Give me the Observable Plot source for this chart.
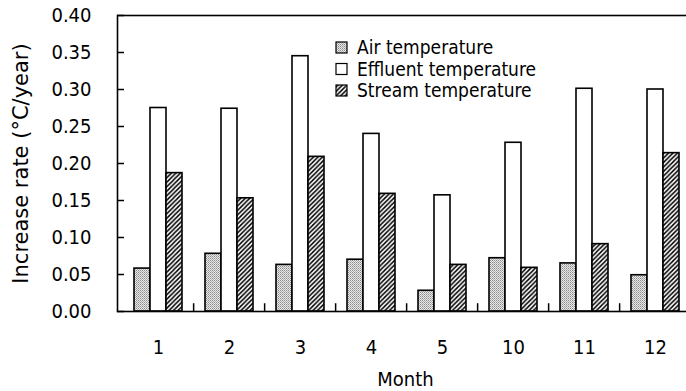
<!DOCTYPE html>
<html><head><meta charset="utf-8">
<script src="https://cdn.jsdelivr.net/npm/d3@7"></script>
<script src="https://cdn.jsdelivr.net/npm/@observablehq/plot@0.6"></script>
<style>
body{margin:0;background:#fff;}
#chart{position:relative;width:686px;height:391px;overflow:hidden;}
</style></head><body><div id="chart"></div>
<script>
const months = ["1","2","3","4","5","10","11","12"];
const airTemp = [0.058, 0.078, 0.063, 0.070, 0.028, 0.072, 0.065, 0.049];
const effluentTemp = [0.275, 0.274, 0.345, 0.240, 0.157, 0.228, 0.301, 0.300];
const streamTemp = [0.187, 0.153, 0.209, 0.159, 0.063, 0.059, 0.091, 0.214];
const seriesNames = ["Air temperature", "Effluent temperature", "Stream temperature"];
const yTicks = [0, 0.05, 0.10, 0.15, 0.20, 0.25, 0.30, 0.35, 0.40];

const seriesValues = [airTemp, effluentTemp, streamTemp];
const rows = months.flatMap((m, i) => seriesNames.map((s, k) => ({month: m, series: s, value: seriesValues[k][i]})));
const fills = ["url(#airPat)", "white", "url(#hatchPat)"];
const font = `"DejaVu Sans Condensed","DejaVu Sans",sans-serif`;
const barW = 16;
const step = 71.75;

const svg = Plot.plot({
  width: 686, height: 391,
  marginLeft: 117, marginRight: -7, marginTop: 15, marginBottom: 80,
  style: {fontFamily: font, fontSize: "20px", color: "black", background: "white", fontStretch: "condensed"},
  x: {domain: months, paddingInner: 1 - barW / step, paddingOuter: (1 - barW / step) / 2, insetLeft: 2},
  y: {domain: [0, 0.4]},
  marks: [
    ...seriesNames.map((s, k) => Plot.barY(rows.filter(d => d.series === s), {
      x: "month", y: "value", fill: fills[k], stroke: "black", strokeWidth: 1.6, dx: (k - 1) * barW
    })),
    Plot.ruleX(months.slice(1), {x: d => d, y1: 0, y2: 0.0105, dx: -step / 2, stroke: "black", strokeWidth: 1.5}),
    Plot.axisX({tickSize: 0, tickPadding: 28, label: "Month", labelAnchor: "center", labelOffset: 74, labelArrow: "none"}),
    Plot.axisY({ticks: yTicks, tickSize: -7, tickPadding: 33, strokeWidth: 1.5, tickFormat: d3.format(".2f"),
      label: "Increase rate (°C/year)", labelAnchor: "center", labelOffset: 104, labelArrow: "none"}),
    Plot.frame({stroke: "black", strokeWidth: 1.6})
  ]
});

const sel = d3.select(svg);
sel.selectAll('g[aria-label="y-axis label"] text').style("font-stretch", "normal").style("font-family", `"DejaVu Sans",sans-serif`).style("font-size", "21px");
const defs = sel.insert("defs", ":first-child");
const ap = defs.append("pattern").attr("id", "airPat").attr("patternUnits", "userSpaceOnUse").attr("width", 2).attr("height", 2);
ap.append("rect").attr("width", 2).attr("height", 2).attr("fill", "#e8e8e8");
ap.append("rect").attr("width", 1).attr("height", 1).attr("fill", "#8a8a8a");
ap.append("rect").attr("x", 1).attr("y", 1).attr("width", 1).attr("height", 1).attr("fill", "#b0b0b0");
const hp = defs.append("pattern").attr("id", "hatchPat").attr("patternUnits", "userSpaceOnUse").attr("width", 4.5).attr("height", 4.5);
hp.append("rect").attr("width", 4.5).attr("height", 4.5).attr("fill", "white");
hp.append("path").attr("d", "M-1,1L1,-1M0,4.5L4.5,0M3.5,5.5L5.5,3.5").attr("stroke", "black").attr("stroke-width", 1.5);

// legend
const legX = 336, legY0 = 54, legDY = 21.5, sw = 11;
const lg = sel.append("g").attr("font-family", font).attr("font-size", 19).attr("text-anchor", "start");
seriesNames.forEach((s, k) => {
  const by = legY0 + k * legDY;
  lg.append("rect").attr("x", legX).attr("y", by - sw - 1).attr("width", sw).attr("height", sw)
    .attr("fill", fills[k]).attr("stroke", "black").attr("stroke-width", 1.2);
  lg.append("text").attr("x", legX + 21).attr("y", by).attr("text-anchor", "start").text(s);
});

document.getElementById("chart").appendChild(svg);
</script></body></html>
